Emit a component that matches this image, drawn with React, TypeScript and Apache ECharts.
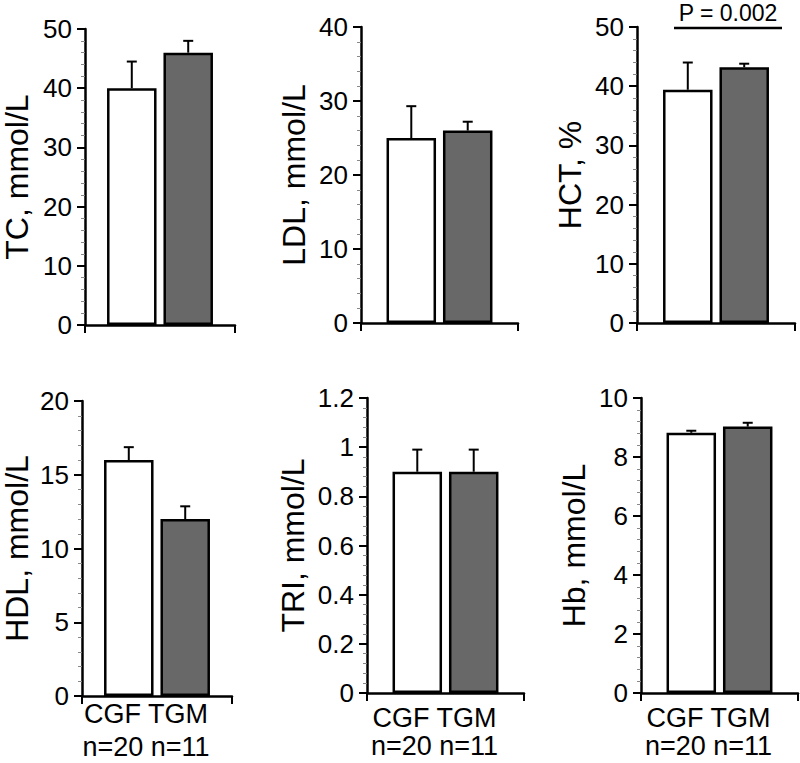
import React, { useEffect, useRef } from "react";
import * as echarts from "echarts";

const FONT = "'Liberation Sans', Arial, Helvetica, sans-serif";

const groups = ["CGF", "TGM"];
const groupN = ["n=20", "n=11"];

const tcMean = [40, 46];
const tcUpper = [44.5, 48];
const ldlMean = [25, 26];
const ldlUpper = [29.3, 27.2];
const hctMean = [39.4, 43.2];
const hctUpper = [44, 43.8];
const hdlMean = [16, 12];
const hdlUpper = [16.87, 12.86];
const triMean = [0.9, 0.9];
const triUpper = [0.99, 0.99];
const hbMean = [8.82, 9.03];
const hbUpper = [8.89, 9.16];

const yNames = ["TC, mmol/L", "LDL, mmol/L", "HCT, %", "HDL, mmol/L", "TRI, mmol/L", "Hb, mmol/L"];
const yMax = [50, 40, 50, 20, 1.2, 10];
const yInterval = [10, 10, 10, 5, 0.2, 2];
const pLabel = "P = 0.002";

const means = [tcMean, ldlMean, hctMean, hdlMean, triMean, hbMean];
const uppers = [tcUpper, ldlUpper, hctUpper, hdlUpper, triUpper, hbUpper];

const layout = [
  { left: 79, top: 29, width: 156, height: 296, nameGap: 52, bottom: false, labelMargin: 0, lh: 0 },
  { left: 361, top: 27, width: 157, height: 296, nameGap: 51, bottom: false, labelMargin: 0, lh: 0 },
  { left: 637, top: 27, width: 158, height: 296, nameGap: 51, bottom: false, labelMargin: 0, lh: 0 },
  { left: 76, top: 401, width: 156, height: 296, nameGap: 49, bottom: true, labelMargin: 1, lh: 33 },
  { left: 367, top: 398, width: 157, height: 295, nameGap: 58, bottom: true, labelMargin: 11, lh: 28 },
  { left: 641, top: 398, width: 157, height: 295, nameGap: 51, bottom: true, labelMargin: 11, lh: 28 },
];

const BAR_W = 49.5;
const BAR_GAP = 0.14;
const CAP = 5;

export default function App() {
  const ref = useRef<HTMLDivElement>(null);
  useEffect(() => {
    if (!ref.current) return;
    const chart = echarts.init(ref.current, undefined, { renderer: "svg" });
    const xLabel = `${groups[0]} ${groups[1]}\n${groupN[0]} ${groupN[1]}`;
    const grid: any[] = [];
    const xAxis: any[] = [];
    const yAxis: any[] = [];
    const series: any[] = [];
    layout.forEach((l, i) => {
      grid.push({ left: l.left, top: l.top, width: l.width, height: l.height });
      xAxis.push({
        type: "category",
        gridIndex: i,
        data: [l.bottom ? xLabel : ""],
        axisLine: { lineStyle: { color: "#000", width: 2.5 } },
        axisTick: { show: true, length: 8, lineStyle: { color: "#000", width: 2 } },
        axisLabel: l.bottom
          ? {
              show: true,
              color: "#000",
              fontFamily: FONT,
              fontSize: 27,
              lineHeight: l.lh,
              margin: l.labelMargin,
              padding: [0, 22, 0, 0],
            }
          : { show: false },
        splitLine: { show: false },
      });
      yAxis.push({
        type: "value",
        gridIndex: i,
        min: 0,
        max: yMax[i],
        interval: yInterval[i],
        name: yNames[i],
        nameLocation: "middle",
        nameGap: l.nameGap,
        nameTextStyle: { color: "#000", fontFamily: FONT, fontSize: 32 },
        axisLine: { show: true, lineStyle: { color: "#000", width: 2.5 } },
        axisTick: { show: true, length: 8, lineStyle: { color: "#000", width: 2 } },
        minorTick: { show: true, splitNumber: 5, length: 4, lineStyle: { color: "#888", width: 1 } },
        splitLine: { show: false },
        axisLabel: { color: "#000", fontFamily: FONT, fontSize: 26, margin: 13 },
      });
      const colors = ["#ffffff", "#686868"];
      groups.forEach((g, k) => {
        series.push({
          type: "bar",
          name: g,
          xAxisIndex: i,
          yAxisIndex: i,
          data: [means[i][k]],
          barWidth: BAR_W,
          barGap: `${BAR_GAP * 100}%`,
          itemStyle: { color: colors[k], borderColor: "#000", borderWidth: 2.5 },
          z: 2,
        });
      });
      series.push({
        type: "custom",
        xAxisIndex: i,
        yAxisIndex: i,
        z: 3,
        data: groups.map((g, k) => [0, means[i][k], uppers[i][k], k === 0 ? -1 : 1]),
        renderItem: (params: any, api: any) => {
          const top = api.coord([api.value(0), api.value(2)]);
          const base = api.coord([api.value(0), api.value(1)]);
          const off = (api.value(3) * (BAR_W + BAR_W * BAR_GAP)) / 2;
          const x = top[0] + off;
          const style = { stroke: "#000", lineWidth: 2 };
          return {
            type: "group",
            children: [
              { type: "line", shape: { x1: x, y1: base[1], x2: x, y2: top[1] }, style },
              { type: "line", shape: { x1: x - CAP, y1: top[1], x2: x + CAP, y2: top[1] }, style },
            ],
          };
        },
      });
    });
    chart.setOption({
      animation: false,
      backgroundColor: "#fff",
      grid,
      xAxis,
      yAxis,
      series,
      graphic: [
        {
          type: "text",
          x: 728,
          y: 12.5,
          style: {
            text: pLabel,
            fill: "#000",
            fontFamily: FONT,
            fontSize: 23,
            lineHeight: 23,
            align: "center",
            verticalAlign: "middle",
          },
        },
        {
          type: "line",
          shape: { x1: 674, y1: 28, x2: 782, y2: 28 },
          style: { stroke: "#000", lineWidth: 2.5 },
        },
      ],
    });
    return () => chart.dispose();
  }, []);
  return <div ref={ref} style={{ position: "absolute", left: 0, top: 0, width: 800, height: 763 }} />;
}
